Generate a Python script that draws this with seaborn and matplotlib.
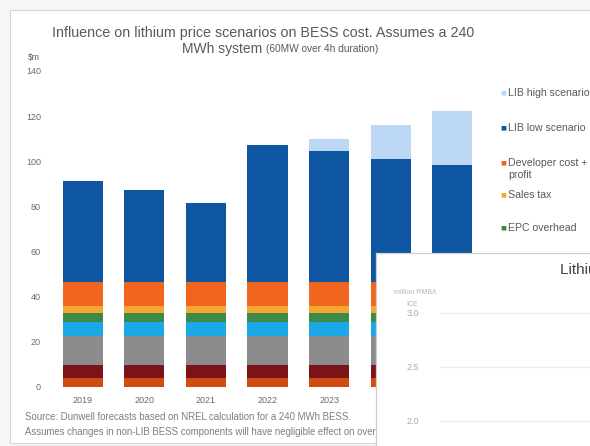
import numpy as np
import pandas as pd
import matplotlib
matplotlib.use("Agg")
import matplotlib.pyplot as plt
import seaborn as sns
from matplotlib.patches import Rectangle

# ---------------- data ----------------
years = ["2019", "2020", "2021", "2022", "2023", "2024", "2025"]
other_cost = [3.6, 3.6, 3.6, 3.6, 3.6, 3.6, 3.6]
pcs_cost = [6.0, 6.0, 6.0, 6.0, 6.0, 6.0, 6.0]
bos_cost = [12.6, 12.6, 12.6, 12.6, 12.6, 12.6, 12.6]
grid_cost = [6.4, 6.4, 6.4, 6.4, 6.4, 6.4, 6.4]
epc_overhead = [4.0, 4.0, 4.0, 4.0, 4.0, 4.0, 4.0]
sales_tax = [3.3, 3.3, 3.3, 3.3, 3.3, 3.3, 3.3]
developer_cost = [10.4, 10.4, 10.4, 10.4, 10.4, 10.4, 10.4]
lib_low = [45.0, 40.8, 35.2, 60.8, 58.2, 54.6, 51.9]
lib_high_extra = [0.0, 0.0, 0.0, 0.0, 5.5, 15.2, 24.2]

series_cols = ["Other", "PCS", "Balance of system", "Grid connection", "EPC overhead",
               "Sales tax", "Developer cost + profit", "LIB low scenario", "LIB high scenario"]
series_vals = [other_cost, pcs_cost, bos_cost, grid_cost, epc_overhead,
               sales_tax, developer_cost, lib_low, lib_high_extra]
series_colors = ["#d04c10", "#7a1418", "#8c8c8c", "#1ca8e6", "#3a8b47",
                 "#f5a633", "#f1661f", "#0e55a2", "#bdd8f4"]

legend_labels = ["LIB high scenario", "LIB low scenario", "Developer cost +\nprofit",
                 "Sales tax", "EPC overhead"]
legend_colors = ["#bdd8f4", "#0e55a2", "#f1661f", "#f5a633", "#3a8b47"]

y_ticks = [0, 20, 40, 60, 80, 100, 120, 140]
inset_ticks = [2.0, 2.5, 3.0]
inset_labels = ["2.0", "2.5", "3.0"]

# ---------------- figure ----------------
sns.set_theme(style="white")
plt.rcParams["font.family"] = ["Liberation Sans", "DejaVu Sans"]

W, H = 590, 446
def fx(px):
    return px / W
def fy(py):
    return 1 - py / H

fig = plt.figure(figsize=(W / 100, H / 100), dpi=100)
fig.patch.set_facecolor("#f6f6f6")
fig.patches.append(Rectangle((fx(10), fy(443)), 1.0, fy(10) - fy(443),
                             transform=fig.transFigure, facecolor="white",
                             edgecolor="#d6d6d6", lw=0.8, zorder=-5))

ax = fig.add_axes([fx(52), fy(386.5), fx(483) - fx(52), fy(71) - fy(386.5)])
ax.set_zorder(1)
ax.patch.set_alpha(0)

df = pd.DataFrame({c: v for c, v in zip(series_cols, series_vals)})
df.insert(0, "year", years)
cum = df[series_cols].cumsum(axis=1)

for col, colr in zip(reversed(series_cols), reversed(series_colors)):
    sns.barplot(x=df["year"], y=cum[col], color=colr, width=0.65, saturation=1,
                linewidth=0, errorbar=None, ax=ax)

ax.set_ylim(0, 140)
ax.set_yticks(y_ticks)
ax.set_xlabel("")
ax.set_ylabel("")
for s in ax.spines.values():
    s.set_visible(False)
ax.tick_params(axis="y", labelsize=6.5, colors="#6a6a6a", length=0, pad=8)
ax.tick_params(axis="x", labelsize=6.5, colors="#6a6a6a", length=0, pad=7)

# title
tcol = "#595959"
fig.text(fx(263), fy(33), "Influence on lithium price scenarios on BESS cost. Assumes a 240",
         ha="center", va="center", fontsize=10.3, color=tcol)
fig.text(fx(262), fy(49), "MWh system", ha="right", va="center", fontsize=10.0, color=tcol)
fig.text(fx(266), fy(49), "(60MW over 4h duration)", ha="left", va="center", fontsize=7.3, color=tcol)
fig.text(fx(28), fy(58), "$m", ha="left", va="center", fontsize=6.2, color=tcol)

# legend
leg_y = [93, 128, 169, 195, 228]
for lab, colr, yy in zip(legend_labels, legend_colors, leg_y):
    fig.text(fx(500), fy(yy if "\n" not in lab else yy - 6), "\u25A0", ha="left", va="center",
             fontsize=4.5, color=colr, family="DejaVu Sans")
    fig.text(fx(508), fy(yy), lab, ha="left", va="center", fontsize=7.6, color=tcol,
             linespacing=1.2)

# source
fig.text(fx(25), fy(417), "Source: Dunwell forecasts based on NREL calculation for a 240 MWh BESS.",
         ha="left", va="center", fontsize=6.9, color="#7f7f7f")
fig.text(fx(25), fy(432), "Assumes changes in non-LIB BESS components will have negligible effect on overall cost",
         ha="left", va="center", fontsize=6.9, color="#7f7f7f")

# overlapping second chart window
ax2 = fig.add_axes([fx(376), 0, 1 - fx(376) + 0.02, fy(253)])
ax2.set_zorder(10)
ax2.set_facecolor("white")
ax2.set_xticks([])
ax2.set_yticks([])
for k, s in ax2.spines.items():
    s.set_visible(k in ("left", "top"))
    s.set_color("#cfcfcf")
    s.set_linewidth(0.9)

ax3 = fig.add_axes([fx(440), 0, 1 - fx(440), fy(285)])
ax3.set_zorder(11)
ax3.patch.set_alpha(0)
ax3.set_ylim(2.0 - (446 - 421) / 108, 3.0 + (313 - 285) / 108)
ax3.set_yticks(inset_ticks)
ax3.set_yticklabels(inset_labels)
ax3.set_xticks([])
ax3.grid(axis="y", color="#ececec", lw=0.8)
for s in ax3.spines.values():
    s.set_visible(False)
ax3.tick_params(axis="y", labelsize=6.5, colors="#a8a8a8", length=0, pad=15)

fig.text(fx(560), fy(270), "Lithium carbonate price", ha="left", va="center",
         fontsize=11, color="#404040", zorder=12)
fig.text(fx(415), fy(292), "million RMB/t", ha="center", va="center",
         fontsize=5, color="#b5b5b5", zorder=12)
fig.text(fx(412), fy(304), "ICE", ha="center", va="center",
         fontsize=5, color="#b5b5b5", zorder=12)

fig.savefig("out.png", dpi=100, facecolor=fig.get_facecolor())
